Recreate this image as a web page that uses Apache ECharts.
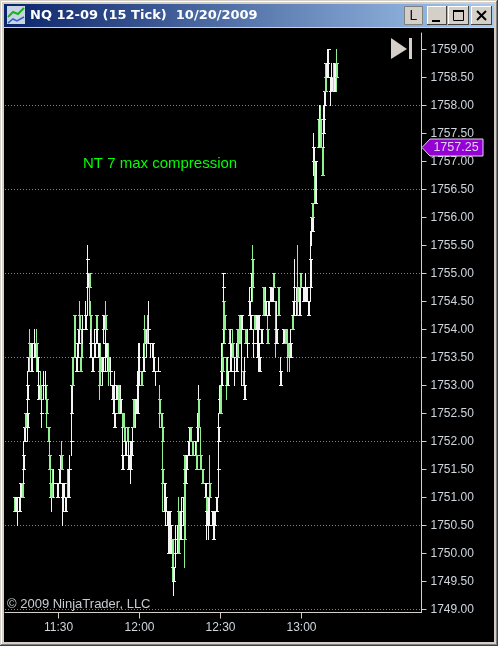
<!DOCTYPE html>
<html><head><meta charset="utf-8">
<style>html,body{margin:0;padding:0;background:#d4d0c8}#c{width:498px;height:646px}</style>
<script src="https://cdn.jsdelivr.net/npm/echarts@6/dist/echarts.min.js"></script>
</head><body><div id="c"></div>
<script>
const chartTitle = 'NQ 12-09 (15 Tick)  10/20/2009';
const annotation = 'NT 7 max compression';
const copyrightText = '© 2009 NinjaTrader, LLC';
const lastPrice = 1757.25;
const priceTicks = [1749,1749.5,1750,1750.5,1751,1751.5,1752,1752.5,1753,1753.5,1754,1754.5,1755,1755.5,1756,1756.5,1757,1757.5,1758,1758.5,1759];
const gridLevels = [1749,1750.5,1752,1753.5,1755,1756.5,1758];
const timeTickBars = [22.75,63.25,103.75,144.25];
const timeTickLabels = ['11:30','12:00','12:30','13:00'];
const barNumber = [
0.5,1.25,2.25,3,3.75,4.5,5.25,5.75,6.25,7,
7.25,7.75,8,9,10.5,11.5,12,12.75,13.5,14.25,
15,16,16.5,17.5,18.25,18.75,19.25,19.5,20.25,22,
23,23.5,24,24.5,25,26,27,27.75,28,29,
29.25,29.75,30.5,31.5,32,32.5,33,33.5,34.25,34.75,
36,37,37.25,38,38.5,38.75,39.5,40.5,41.5,41.75,
42.5,43,43.75,44.5,45,46,46.25,47,47.75,48.75,
49.75,50.25,50.5,51.5,52.75,53.5,54.5,54.75,55.5,56.25,
57,57.5,58.5,59,59.5,60.25,61,62,62.75,63.25,
64,65,65.75,66.5,67.25,67.75,68.5,69.5,70,71,
72.5,73.25,74,74.5,74.75,75.5,76.25,77,77.5,78,
78.5,79.5,80.25,81,82,82.75,83.5,84,85,85.5,
85.75,86,86.5,87.5,88.25,88.75,89.75,91,91.75,92,
92.5,92.75,93.75,94.75,96,96.5,96.75,97.5,98.25,99.5,
100,100.75,101.75,102.5,102.75,103.25,103.75,104.25,104.5,105,
105.25,105.75,106.75,107,108,108.5,109.5,110.5,111.5,112,
113,114,115,115.5,116.25,117,118,118.75,119,119.75,
120,120.5,121.75,122.25,122.5,123.25,124,125,126,127,
127.75,128.5,129.5,130.25,131,131.75,132.5,133.5,135,136,
137.25,138,138.5,139.5,140,140.5,141.5,142.25,143,143.75,
145,146,146.5,147.5,148.5,149,149.5,149.75,150,150.5,
151.25,152.5,153,153.5,154.5,155.25,155.5,156,156.25,157,
157.5,158.5,159.25,160,160.75,161.5,
105,105];
const opens = [
1750.75,1751,1750.75,1751,1751.25,1751,1751.75,1752.25,1752.25,1752.5,
1753,1753.5,1753.5,1753.75,1753.75,1753.5,1753.5,1753,1752.75,1752.5,
1753,1753,1752.5,1752,1751.5,1751,1751,1751,1751.25,1751.25,
1751.5,1751.75,1751.5,1751,1751.25,1751,1751,1751.5,1751.5,1753,
1752,1753,1753.5,1753.5,1753.75,1754,1754,1753.25,1753.5,1754,
1754.25,1755,1755.25,1754.75,1753.75,1753.75,1753.5,1753.75,1754,1754,
1753.75,1753,1753.25,1753.5,1754.25,1753.75,1754,1753.5,1753.25,1753.25,
1753,1752.75,1752.5,1753,1752.5,1752.75,1752.25,1751.75,1752,1752,
1752,1751.75,1751.5,1752,1752.25,1752.25,1752.75,1753,1753.5,1753.25,
1753,1753.5,1753.75,1753.75,1753.75,1754,1753.75,1753.75,1753.5,1753.25,
1753.25,1752.5,1752.25,1752,1751.25,1751.25,1751,1750.75,1750.5,1750.75,
1750.5,1749.75,1749.75,1750,1750.25,1750,1750.5,1750.75,1751,1751.5,
1750.25,1751.5,1751.75,1752,1752.25,1752,1751.75,1752,1751.5,1752.25,
1752.75,1752.25,1751.5,1751.25,1751.25,1750.75,1750.75,1751,1751,1750.75,
1750.5,1750.75,1751,1752.25,1751.5,1752.75,1752.5,1753.25,1753.25,1754,
1754,1754,1753,1753.25,1753.75,1753.75,1753.5,1753.25,1753.5,1753.5,
1753.75,1754.25,1753,1753,1753.75,1753.75,1754.5,1754.25,1755,1754.75,
1753.75,1754,1754.25,1753.75,1754.25,1753.5,1754,1754.25,1754.5,1753.75,
1754.5,1754.75,1754.75,1754.75,1753.75,1754,1754.25,1753.25,1754,1753.75,
1753.5,1753.5,1753.75,1754,1754.5,1754.75,1754.75,1754.5,1754.75,1754.75,
1754.75,1754.75,1754.75,1754.5,1755.25,1756,1756,1756,1757.25,1756.5,
1757,1757.25,1757.75,1757.25,1756.75,1757.75,1758.25,1758.75,1758.25,1758.75,
1759,1758.25,1758.5,1758.25,1758.75,1758.5,
1755,1754.75];
const closes = [
1751,1750.75,1750.75,1750.75,1751,1751.25,1751.5,1752,1752.5,1752.25,
1752.75,1753.25,1753.75,1753.25,1753.5,1753.75,1753.25,1752.75,1753,1752.5,
1753,1753,1752.75,1752.25,1751.75,1751.25,1751,1751.25,1751.25,1751,
1751.25,1751.5,1751.75,1751,1751,1750.75,1751.25,1751,1751.5,1752.5,
1752,1753.5,1754.25,1753.25,1753.5,1753.75,1754.25,1753.5,1754,1754,
1754,1754.75,1755.25,1755,1754.25,1753.5,1753.25,1753.5,1754.25,1753.75,
1753.5,1753.25,1753.5,1753.25,1754,1753.5,1754.25,1753.25,1753.5,1753.25,
1752.75,1752.5,1752.25,1752.75,1753,1752.5,1752.5,1751.5,1752.25,1751.75,
1752.25,1751.5,1751.5,1751.75,1752.25,1752.75,1752.5,1752.5,1753.25,1753.25,
1753.25,1753.25,1754,1753.75,1754,1754,1753.75,1753.75,1753.25,1753.25,
1753.25,1752.75,1752.5,1752.25,1751.5,1750.75,1750.75,1750.5,1750,1750.5,
1750,1750.25,1749.5,1750,1750.25,1750.75,1750.25,1750.75,1750.5,1751.75,
1751.25,1751.25,1751.5,1751.75,1752,1752.25,1752,1751.75,1751.75,1752.25,
1752.75,1752.75,1751.75,1751.5,1751,1751,1750.5,1750.5,1751.25,1750.5,
1750.25,1750.5,1750.75,1752,1751.5,1752.5,1753,1753,1753.5,1753.75,
1754.5,1754.25,1753.5,1753,1754,1753.25,1753.75,1753.25,1753.25,1754,
1754.25,1754,1753.25,1752.75,1754,1753.75,1754.25,1754,1754.75,1755.25,
1753.75,1754.25,1754,1753.5,1754,1753.25,1753.75,1754.75,1754.25,1754,
1754.25,1754.5,1754.5,1755,1754,1753.75,1754.75,1753,1753.75,1754,
1753.75,1753.75,1753.5,1754.25,1754.25,1754.75,1754.5,1754.75,1754.25,1755,
1754.5,1754.5,1754.5,1754.25,1754.75,1756,1755.75,1756.25,1757,1757,
1756.25,1757.75,1757.25,1757.75,1757.25,1757.5,1758,1758.25,1758.5,1758.5,
1759,1758.25,1758.25,1758.5,1758.25,1758.75,
1755,1754.75];
const lows = [
1750.75,1750.75,1750.5,1750.75,1751,1751,1751.25,1752,1752.25,1752,
1752.5,1753.25,1753.25,1753.25,1753.5,1753.25,1753.25,1752.75,1752.75,1752.25,
1752.75,1752.75,1752.25,1752,1751.5,1751,1750.75,1751,1751,1751,
1751.25,1751.5,1751.5,1750.5,1750.75,1750.75,1751,1751,1751.25,1752.25,
1751.75,1753,1753.5,1753.25,1753.5,1753.75,1754,1753.25,1753.5,1753.75,
1754,1754.25,1755,1754.25,1753.75,1753.5,1753.25,1753.5,1754,1753.75,
1753.5,1752.75,1753,1753,1753.75,1753.25,1754,1753.25,1753,1753,
1752.75,1752.5,1752.25,1752.75,1752.5,1752.5,1752.25,1751.5,1752,1751.75,
1752,1751.5,1751.25,1751.5,1751.75,1752.25,1752.25,1752.5,1753,1753,
1753,1753.25,1753.5,1753.5,1753.75,1753.75,1753.5,1753.5,1753.25,1753,
1753.25,1752.25,1752.25,1752,1750.75,1750.75,1750.5,1750.5,1750,1750.5,
1750,1749.5,1749.25,1749.75,1750,1750,1750.25,1750.25,1750.5,1751.5,
1749.75,1751.25,1751.5,1751.75,1752,1752,1751.75,1751.75,1751.5,1752,
1752,1752.25,1751.5,1751.25,1751,1750.75,1750.25,1750.25,1751,1750.5,
1750.25,1750.5,1750.75,1751,1751.25,1752.5,1752.5,1753,1753.25,1753.75,
1754,1753.75,1752.75,1753,1753.75,1753.25,1753.5,1753,1753.25,1753.5,
1753.75,1753,1753,1752.75,1753.75,1753.5,1754.25,1754,1754.5,1754.5,
1753.5,1754,1754,1753.5,1753.25,1753.25,1753.75,1754.25,1754.25,1753.75,
1754.25,1754.5,1754.5,1754.75,1753.5,1753.75,1754.25,1753,1753.75,1753.75,
1753.25,1753.25,1753.5,1754,1754.25,1754.25,1754.25,1754.25,1754.25,1754.75,
1754.5,1754.5,1754.5,1754.25,1754.5,1755.5,1755.75,1756,1756.75,1756.25,
1756.25,1757.25,1757.25,1757.25,1756.75,1757.25,1757.75,1758.25,1758.25,1758.5,
1758.75,1758,1758.25,1758.25,1758.25,1758.25,
1754.5,1754.5];
const highs = [
1751,1751,1751,1751,1751.25,1751.25,1752,1752.25,1752.5,1752.5,
1753.25,1753.5,1754,1753.75,1754,1754,1753.5,1753.25,1753.25,1752.75,
1753.25,1753.25,1753,1752.25,1752,1751.5,1751,1751.5,1751.5,1751.25,
1751.5,1751.75,1752,1751.25,1751.25,1751,1751.5,1751.5,1751.75,1753,
1752.25,1753.5,1754.25,1753.5,1753.75,1754,1754.5,1753.5,1754,1754.25,
1754.5,1755.5,1755.5,1755,1754.5,1754,1753.5,1754,1754.25,1754,
1753.75,1753.5,1753.75,1753.5,1754.25,1754,1754.5,1753.75,1753.75,1753.5,
1753,1752.75,1753.25,1753,1753,1753,1752.5,1752.25,1752.5,1752,
1752.25,1752,1752,1752,1752.25,1752.75,1752.75,1753.25,1753.75,1753.75,
1753.25,1753.75,1754.25,1754,1754.25,1754.5,1753.75,1753.75,1753.75,1753.25,
1753.5,1753,1752.5,1752.25,1752,1751.25,1751,1750.75,1750.5,1750.75,
1750.5,1750.25,1749.75,1750.5,1750.5,1751,1750.75,1751,1751,1751.75,
1751.5,1751.5,1751.75,1752,1752.25,1752.25,1752,1752,1752,1752.5,
1753,1752.75,1752.25,1751.5,1751.25,1751,1750.75,1751,1751.75,1750.75,
1750.75,1750.75,1751,1752.5,1751.75,1753,1753,1753.75,1753.75,1754,
1754.5,1754.25,1753.5,1753.5,1754,1754,1754,1753.5,1753.75,1754,
1754.25,1754.25,1753.25,1753.5,1754,1754,1754.75,1754.5,1755,1755.5,
1754,1754.25,1754.25,1754,1754.25,1753.75,1754,1754.75,1754.75,1754.25,
1754.5,1754.75,1754.75,1755,1754.5,1754.5,1754.75,1753.5,1754,1754,
1754,1753.75,1754,1754.25,1754.5,1755.25,1754.75,1755.5,1754.75,1755,
1754.75,1755,1754.75,1754.5,1755.75,1756,1756.25,1756.25,1757.5,1757,
1757,1757.75,1758,1758,1757.25,1758,1758.25,1758.75,1758.75,1759,
1759,1758.5,1758.75,1758.75,1758.75,1759,
1755,1755];

const UP = '#90f090', DOWN = '#f4f4f4', FRAME = '#d4d0c8', AXIS = '#cfd6dc';
const rows = barNumber.map((n, i) => [n, opens[i], closes[i], lows[i], highs[i]]);

function renderBar(params, api) {
  const n = api.value(0), o = api.value(1), c = api.value(2), l = api.value(3), h = api.value(4);
  const color = c > o ? UP : DOWN;
  const x = Math.floor(api.coord([n, o])[0]);
  const yo = Math.floor(api.coord([n, o])[1]), yc = Math.floor(api.coord([n, c])[1]);
  const yl = Math.floor(api.coord([n, l])[1]), yh = Math.floor(api.coord([n, h])[1]);
  const top = Math.min(yo, yc), bot = Math.max(yo, yc);
  const rect = (rx, ry, w, hh) => ({ type: 'rect', shape: { x: rx, y: ry, width: w, height: hh }, style: { fill: color } });
  return { type: 'group', children: [
    rect(x, yh, 1, Math.max(1, yl - yh + 1)),
    rect(x, top, 2, Math.max(1, bot - top + 1)),
    rect(x - 1, top, 4, 1),
    rect(x - 1, bot, 4, 1)
  ]};
}
function renderTag(params, api) {
  const p = api.coord([api.value(0), api.value(1)]);
  const x = Math.floor(p[0]), y = Math.floor(p[1]) + 0.5;
  return { type: 'group', children: [
    { type: 'polygon', shape: { points: [[x + 1, y], [x + 9, y - 8.5], [x + 62, y - 8.5], [x + 62, y + 8.5], [x + 9, y + 8.5]] },
      style: { fill: '#9400d3', stroke: '#e4d0f0', lineWidth: 1 } },
    { type: 'text', style: { x: x + 35, y: y + 0.5, text: api.value(1).toFixed(2), fill: '#e0d0f0', font: '12.5px "Liberation Sans"', align: 'center', verticalAlign: 'middle' } }
  ]};
}
function btn(x, w) {
  return [
    { type: 'rect', z: 5, shape: { x: x, y: 6, width: w, height: 19 }, style: { fill: '#404040' } },
    { type: 'rect', z: 5, shape: { x: x, y: 6, width: w - 1, height: 18 }, style: { fill: '#ffffff' } },
    { type: 'rect', z: 5, shape: { x: x + 1, y: 7, width: w - 2, height: 17 }, style: { fill: FRAME } }
  ];
}
const graphics = [
  { type: 'rect', z: -2, shape: { x: 4, y: 28, width: 490, height: 614 }, style: { fill: '#000' } },
  { type: 'rect', z: 4, shape: { x: 4, y: 4, width: 490, height: 23 },
    style: { fill: new echarts.graphic.LinearGradient(0, 0, 1, 0, [{ offset: 0, color: '#0a246a' }, { offset: 1, color: '#a6caf0' }]) } },
  { type: 'rect', z: 5, shape: { x: 497, y: 0, width: 1, height: 646 }, style: { fill: '#404040' } },
  { type: 'rect', z: 5, shape: { x: 0, y: 645, width: 498, height: 1 }, style: { fill: '#404040' } },
  { type: 'rect', z: 5, shape: { x: 496, y: 1, width: 1, height: 644 }, style: { fill: '#808080' } },
  { type: 'rect', z: 5, shape: { x: 1, y: 644, width: 496, height: 1 }, style: { fill: '#808080' } },
  { type: 'rect', z: 5, shape: { x: 1, y: 1, width: 495, height: 1 }, style: { fill: '#ffffff' } },
  { type: 'rect', z: 5, shape: { x: 1, y: 1, width: 1, height: 643 }, style: { fill: '#ffffff' } },
  { type: 'rect', z: 5, shape: { x: 7, y: 6, width: 18, height: 18 }, style: { fill: '#c8d4e4' } },
  { type: 'polyline', z: 6, shape: { points: [[8, 17], [13, 12], [18, 14], [24, 8]] }, style: { stroke: '#20b020', fill: null, lineWidth: 2 } },
  { type: 'polyline', z: 6, shape: { points: [[8, 23], [13, 19], [17, 21], [24, 17]] }, style: { stroke: '#3060c0', fill: null, lineWidth: 1.5 } },
  { type: 'text', z: 6, style: { x: 30, y: 16, text: chartTitle, fill: '#fff', font: 'bold 13px "DejaVu Sans"', verticalAlign: 'middle' } },
  { type: 'rect', z: 5, shape: { x: 404.5, y: 6.5, width: 18, height: 18 }, style: { fill: FRAME, stroke: '#808080', lineWidth: 1 } },
  { type: 'text', z: 6, style: { x: 413.5, y: 16, text: 'L', fill: '#200020', font: '14px "Liberation Sans"', align: 'center', verticalAlign: 'middle' } },
  ...btn(427, 20), ...btn(448, 21), ...btn(471, 21),
  { type: 'rect', z: 6, shape: { x: 432, y: 20, width: 8, height: 2 }, style: { fill: '#000' } },
  { type: 'rect', z: 6, shape: { x: 453.5, y: 10.5, width: 10, height: 10 }, style: { fill: null, stroke: '#000', lineWidth: 1 } },
  { type: 'rect', z: 6, shape: { x: 453, y: 10, width: 11, height: 2 }, style: { fill: '#000' } },
  { type: 'polyline', z: 6, shape: { points: [[477, 11], [486, 20]] }, style: { stroke: '#000', lineWidth: 2, fill: null } },
  { type: 'polyline', z: 6, shape: { points: [[486, 11], [477, 20]] }, style: { stroke: '#000', lineWidth: 2, fill: null } },
  { type: 'polygon', z: 6, shape: { points: [[391, 38], [407, 49], [391, 59]] }, style: { fill: FRAME } },
  { type: 'rect', z: 6, shape: { x: 409, y: 38, width: 3, height: 21 }, style: { fill: FRAME } },
  { type: 'text', z: 6, style: { x: 83, y: 164, text: annotation, fill: '#00ff00', font: '15px "Liberation Sans"', verticalAlign: 'middle' } },
  { type: 'text', z: 6, style: { x: 7, y: 604, text: copyrightText, fill: '#c8ccd0', font: '13px "Liberation Sans"', verticalAlign: 'middle' } }
];

const chart = echarts.init(document.getElementById('c'), null, { renderer: 'canvas' });
chart.setOption({
  animation: false,
  backgroundColor: FRAME,
  graphic: graphics,
  grid: { left: 5, top: 33, width: 416.5, height: 579.5, containLabel: false },
  xAxis: {
    type: 'value', min: -4, max: 204.25,
    axisLine: { show: true, onZero: false, lineStyle: { color: FRAME, width: 1 } },
    axisTick: { show: true, length: 6, lineStyle: { color: FRAME }, customValues: timeTickBars },
    axisLabel: { color: AXIS, fontFamily: 'Liberation Sans', fontSize: 12, margin: 9,
      customValues: timeTickBars, formatter: v => timeTickLabels[timeTickBars.indexOf(v)] },
    splitLine: { show: false }
  },
  yAxis: {
    type: 'value', position: 'right', min: 1748.946, max: 1759.2946,
    axisLine: { show: true, onZero: false, lineStyle: { color: FRAME, width: 1 } },
    axisTick: { show: true, length: 5, lineStyle: { color: FRAME }, customValues: priceTicks },
    axisLabel: { color: AXIS, fontFamily: 'Liberation Sans', fontSize: 12, margin: 9, padding: [2, 0, 0, 0],
      customValues: priceTicks, formatter: v => v.toFixed(2) },
    splitLine: { show: false }
  },
  series: [
    { type: 'custom', name: 'NQ', renderItem: renderBar, data: rows, encode: { x: 0, y: [1, 2, 3, 4] }, clip: false, silent: true, z: 3,
      markLine: { silent: true, symbol: 'none', animation: false, z: 1, label: { show: false },
        lineStyle: { color: '#808080', type: [1, 2], width: 1 },
        data: gridLevels.map(v => ({ yAxis: v })) } },
    { type: 'custom', name: 'Last', renderItem: renderTag, data: [[204.25, lastPrice]], encode: { x: 0, y: 1 }, clip: false, silent: true, z: 6 }
  ]
});
</script></body></html>
